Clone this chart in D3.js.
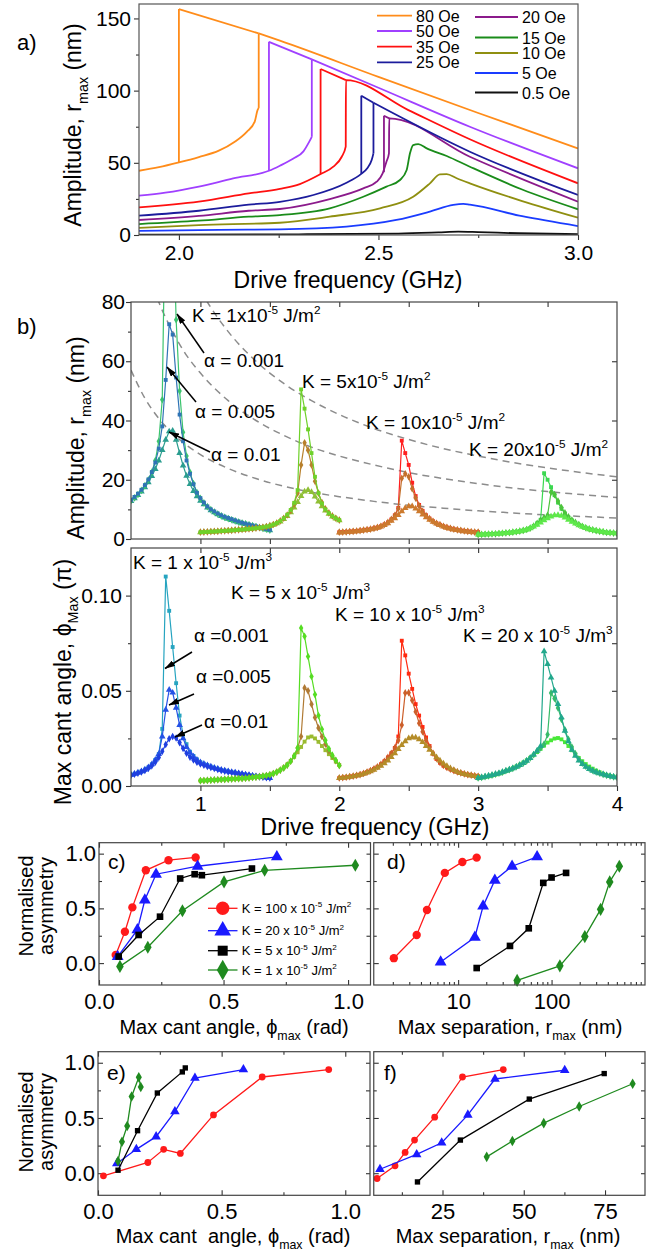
<!DOCTYPE html>
<html><head><meta charset="utf-8">
<script src="https://cdn.jsdelivr.net/npm/d3@7/dist/d3.min.js"></script>
<style>
html,body{margin:0;padding:0;background:#fff;}
svg{display:block;font-family:"Liberation Sans",Arial,Helvetica,sans-serif;}
text{white-space:pre;}
</style></head><body>
<svg id="chart" width="654" height="1256" viewBox="0 0 654 1256"></svg>
<script>
// ================= DATA =================
// ---- panel a : amplitude vs drive frequency for several fields ----
const fieldLabelsL = ["80 Oe","50 Oe","35 Oe","25 Oe"];
const fieldLabelsR = ["20 Oe","15 Oe","10 Oe","5 Oe","0.5 Oe"];
const up80 = [[1.9,44.5],[1.95,47],[2.0,50.3],[2.05,54],[2.1,58.4],[2.14,64.6],[2.17,71.5],[2.19,78.5],[2.197,86.5],[2.2,88],[2.2,139.6],[2.253,134.6],[2.5,109.5],[2.75,84.5],[3.0,60]];
const dn80 = [[2.0,50.3],[2.0,156.5],[2.2,139.6]];
const up50 = [[1.9,27.2],[1.966,29.3],[2.05,33.5],[2.136,39.2],[2.2256,44.5],[2.253,48],[2.287,53],[2.312,57.9],[2.327,64.8],[2.333,68],[2.333,121.6],[2.5,102],[2.729,75],[3.0,46.2]];
const dn50 = [[2.2256,44.5],[2.2256,133.8],[2.333,121.6]];
const up35 = [[1.9,19.2],[2.05,23.1],[2.175,28.8],[2.253,32],[2.303,35.3],[2.355,42.2],[2.387,47.3],[2.408,54.2],[2.418,61.2],[2.4185,107.3],[2.575,86.5],[2.729,66.3],[3.0,35.8]];
const dn35 = [[2.355,42.2],[2.355,115],[2.4185,107.3]];
const up25 = [[1.9,13.4],[2.05,16.8],[2.175,21],[2.253,23],[2.337,27.7],[2.42,36.2],[2.456,42.2],[2.472,46.2],[2.483,51.9],[2.4875,56.6],[2.4875,91.6],[2.729,57.7],[3.0,27.7]];
const dn25 = [[2.457,42.5],[2.457,96.5],[2.4875,91.6]];
const up20 = [[1.9,10.4],[2.05,13.2],[2.175,16.8],[2.253,18],[2.378,24.9],[2.462,32.3],[2.4955,36.9],[2.5105,42.7],[2.52,50.8],[2.5263,56.6],[2.527,80.8],[2.729,54.2],[3.0,23.1]];
const dn20 = [[2.5138,43.5],[2.5138,82.6],[2.527,80.8]];
const c15 = [[1.9,7.6],[2.05,9.9],[2.175,12.7],[2.253,13.8],[2.378,18.5],[2.462,26.5],[2.52,33.5],[2.554,38.1],[2.5707,45],[2.579,56.6],[2.587,62.3],[2.5998,63],[2.621,60],[2.671,54.7],[2.729,47.3],[2.86,31.5],[3.0,17.8]];
const c10 = [[1.9,5],[2.05,6.9],[2.253,8.5],[2.378,12.7],[2.504,18.5],[2.587,26.5],[2.629,35.8],[2.654,42],[2.671,42.2],[2.696,39.3],[2.729,35.8],[2.86,23.5],[3.0,12]];
const c5 = [[1.9,2.8],[2.1,3.6],[2.253,3.9],[2.42,5.8],[2.545,10.4],[2.629,16.2],[2.6875,20.8],[2.7125,21.5],[2.729,21],[2.86,13],[3.0,6.2]];
const c05 = [[1.9,0.3],[2.3,0.5],[2.55,1.0],[2.65,1.8],[2.7,2.3],[2.75,2.0],[2.85,1.2],[3.0,0.6]];

// ---- panel b : frequency grids of the four anisotropy groups ----
const fK1 = [0.5,0.525,0.55,0.575,0.6,0.625,0.65,0.675,0.7,0.725,0.75,0.775,0.8,0.825,0.85,0.875,0.9,0.925,0.95,0.975,1,1.025,1.05,1.075,1.1,1.125,1.15,1.175,1.2,1.225,1.25,1.275,1.3,1.325,1.35,1.375,1.4,1.425,1.45,1.475,1.5];
const fK5 = [1,1.025,1.05,1.075,1.1,1.125,1.15,1.175,1.2,1.225,1.25,1.275,1.3,1.325,1.35,1.375,1.4,1.425,1.45,1.475,1.5,1.525,1.55,1.575,1.6,1.625,1.65,1.675,1.7,1.725,1.75,1.775,1.8,1.825,1.85,1.875,1.9,1.925,1.95,1.975,2];
const fK10 = [2,2.025,2.05,2.075,2.1,2.125,2.15,2.175,2.2,2.225,2.25,2.275,2.3,2.325,2.35,2.375,2.4,2.425,2.45,2.475,2.5,2.525,2.55,2.575,2.6,2.625,2.65,2.675,2.7,2.725,2.75,2.775,2.8,2.825,2.85,2.875,2.9,2.925,2.95,2.975,3];
const fK20 = [3,3.025,3.05,3.075,3.1,3.125,3.15,3.175,3.2,3.225,3.25,3.275,3.3,3.325,3.35,3.375,3.4,3.425,3.45,3.475,3.5,3.525,3.55,3.575,3.6,3.625,3.65,3.675,3.7,3.725,3.75,3.775,3.8,3.825,3.85,3.875,3.9,3.925,3.95,3.975,4];
// amplitude r_max (nm)
const ampK1a1 = [12.9,13.9,15,16.4,18,20,22.6,26.5,33,47,125,160,115,74,50,36,28,22.5,18.7,15.7,13.7,12.2,10.9,9.9,9.1,8.4,7.8,7.3,6.9,6.5,6.1,5.7,5.4,5.1,4.8,4.5,4.2,3.9,3.6,3.3,3.0];
const ampK1a5 = [13.2,14.2,15.3,16.6,18.2,20.1,22.6,25.8,30.5,38,53.7,72.5,69,54.5,42,33,26.5,22,18.5,15.6,13.8,12.3,11,10,9.3,8.6,8,7.5,7.1,6.7,6.3,5.9,5.5,5.2,4.9,4.6,4.3,4,3.7,3.4,3.1];
const ampK1a10 = [12.8,13.7,14.8,16,17.4,19.1,21.2,23.6,26.5,30,33.5,36.3,36.5,33.5,29,24.8,21.3,18.5,16.2,14.4,12.9,11.7,10.6,9.7,9,8.3,7.7,7.2,6.8,6.4,6,5.6,5.3,5,4.7,4.4,4.1,3.8,3.5,3.2,2.9];
const ampK5a1 = [2.3,2.35,2.4,2.5,2.55,2.6,2.7,2.75,2.85,2.9,3.0,3.1,3.2,3.3,3.4,3.5,3.65,3.8,3.95,4.2,4.5,4.9,5.4,6.1,7.0,8.2,9.8,12.2,16.5,50.5,44,37,29,21,15.5,12,10,8.7,7.7,7,6.4];
const ampK5a5 = [2.3,2.35,2.4,2.5,2.55,2.6,2.7,2.75,2.85,2.9,3.0,3.1,3.2,3.3,3.4,3.5,3.65,3.8,3.95,4.2,4.5,4.9,5.4,6.1,7.0,8.1,9.6,11.8,15.5,25,32.5,30,25,19.5,15.5,12.3,10.2,8.8,7.8,7,6.4];
const ampK5a10 = [2.25,2.3,2.35,2.45,2.5,2.55,2.65,2.7,2.8,2.9,3.0,3.1,3.2,3.3,3.4,3.5,3.65,3.8,3.95,4.15,4.4,4.8,5.3,5.9,6.7,7.7,9,10.6,12.5,14.5,16,16.5,15.8,14.3,12.6,11,9.6,8.5,7.6,6.9,6.3];
const ampK10a1 = [2.3,2.35,2.4,2.5,2.6,2.7,2.85,3.0,3.15,3.35,3.6,3.9,4.3,4.9,5.6,6.6,8,10.5,33.2,29,25,19,14.5,11.5,9.5,8,6.9,6,5.3,4.8,4.3,3.9,3.6,3.3,3.1,2.9,2.7,2.6,2.45,2.35,2.3];
const ampK10a5 = [2.3,2.35,2.4,2.5,2.6,2.7,2.85,3.0,3.15,3.35,3.6,3.9,4.3,4.9,5.6,6.6,8,10.3,20.5,22,21,17,13.8,11.2,9.3,7.9,6.9,6,5.3,4.8,4.3,3.9,3.6,3.3,3.1,2.9,2.7,2.6,2.45,2.35,2.3];
const ampK10a10 = [2.2,2.25,2.3,2.4,2.5,2.6,2.75,2.9,3.05,3.25,3.5,3.8,4.2,4.7,5.3,6.1,7,8.1,9.3,10.4,11,11,10.3,9.3,8.2,7.3,6.5,5.8,5.2,4.7,4.2,3.8,3.5,3.2,3,2.8,2.6,2.5,2.35,2.25,2.2];
const ampK20a1 = [1.5,1.55,1.6,1.65,1.7,1.75,1.85,1.95,2.05,2.15,2.3,2.45,2.65,2.9,3.2,3.7,4.4,5.3,6.5,22.2,20,17.5,14.8,12.3,10.2,8.6,7.3,6.3,5.5,4.8,4.3,3.8,3.4,3.1,2.8,2.6,2.4,2.2,2.1,2.0,1.9];
const ampK20a5 = [1.5,1.55,1.6,1.65,1.7,1.75,1.85,1.95,2.05,2.15,2.3,2.45,2.65,2.9,3.2,3.7,4.4,5.3,6.3,7.2,8,15.8,15,12.8,10.6,8.8,7.5,6.4,5.6,4.9,4.3,3.8,3.4,3.1,2.8,2.6,2.4,2.2,2.1,2.0,1.9];
const ampK20a10 = [1.45,1.5,1.55,1.6,1.65,1.7,1.8,1.9,2.0,2.1,2.25,2.4,2.6,2.85,3.15,3.6,4.2,4.8,5.5,6.3,7.0,7.6,8.0,8.1,7.8,7.2,6.5,5.8,5.2,4.6,4.1,3.7,3.3,3.0,2.8,2.6,2.4,2.2,2.1,2.0,1.9];
// max cant angle (units of pi)
const phiK1a1 = [0.0059,0.0064,0.007,0.0077,0.0086,0.0098,0.0114,0.0137,0.0168,0.03,0.110,0.092,0.073,0.054,0.037,0.027,0.022,0.018,0.0158,0.014,0.0125,0.0117,0.011,0.0102,0.0096,0.009,0.0085,0.0081,0.0077,0.0073,0.007,0.0066,0.0063,0.006,0.0057,0.0054,0.0051,0.0049,0.0047,0.0044,0.0042];
const phiK1a5 = [0.0059,0.0064,0.007,0.0077,0.0086,0.0098,0.0114,0.0137,0.0168,0.026,0.04,0.0505,0.049,0.041,0.032,0.025,0.0205,0.0175,0.0155,0.0138,0.0124,0.0116,0.0109,0.0102,0.0096,0.009,0.0085,0.0081,0.0077,0.0073,0.007,0.0066,0.0063,0.006,0.0057,0.0054,0.0051,0.0049,0.0047,0.0044,0.0042];
const phiK1a10 = [0.0057,0.0062,0.0067,0.0074,0.0082,0.0093,0.0107,0.0125,0.015,0.0182,0.0218,0.0248,0.026,0.0252,0.0228,0.0198,0.0172,0.0152,0.0137,0.0125,0.0116,0.0109,0.0103,0.0097,0.0092,0.0087,0.0082,0.0078,0.0074,0.0071,0.0068,0.0065,0.0062,0.0059,0.0056,0.0053,0.005,0.0048,0.0046,0.0044,0.0042];
const phiK5a1 = [0.0028,0.0029,0.003,0.0031,0.0032,0.0033,0.0034,0.0035,0.0036,0.0037,0.0038,0.0039,0.004,0.0041,0.0043,0.0045,0.0047,0.0049,0.0052,0.0055,0.0059,0.0065,0.0073,0.0083,0.0095,0.011,0.013,0.0158,0.02,0.083,0.0786,0.068,0.0575,0.048,0.037,0.0298,0.024,0.0195,0.0162,0.0135,0.0108];
const phiK5a5 = [0.0028,0.0029,0.003,0.0031,0.0032,0.0033,0.0034,0.0035,0.0036,0.0037,0.0038,0.0039,0.004,0.0041,0.0043,0.0045,0.0047,0.0049,0.0052,0.0055,0.0059,0.0065,0.0073,0.0083,0.0095,0.011,0.013,0.0158,0.02,0.026,0.0515,0.05,0.043,0.036,0.0305,0.026,0.022,0.0185,0.0158,0.0133,0.0108];
const phiK5a10 = [0.0028,0.0029,0.003,0.0031,0.0032,0.0033,0.0034,0.0035,0.0036,0.0037,0.0038,0.0039,0.004,0.0041,0.0043,0.0045,0.0047,0.0049,0.0052,0.0056,0.006,0.0066,0.0075,0.0085,0.0098,0.0113,0.0132,0.0153,0.0177,0.0205,0.0233,0.0255,0.026,0.025,0.0232,0.021,0.0188,0.0167,0.0147,0.0128,0.011];
const phiK10a1 = [0.0042,0.0044,0.0046,0.0049,0.0052,0.0056,0.006,0.0066,0.0073,0.0081,0.009,0.0101,0.0114,0.013,0.015,0.0172,0.02,0.026,0.0763,0.0686,0.059,0.051,0.043,0.037,0.031,0.0255,0.021,0.017,0.0142,0.0122,0.0107,0.0097,0.0088,0.0081,0.0074,0.0069,0.0064,0.006,0.0057,0.0054,0.0051];
const phiK10a5 = [0.0042,0.0044,0.0046,0.0049,0.0052,0.0056,0.006,0.0066,0.0073,0.0081,0.009,0.0101,0.0114,0.013,0.015,0.0172,0.02,0.024,0.032,0.0489,0.049,0.045,0.039,0.033,0.0285,0.024,0.0205,0.0172,0.0145,0.0124,0.0108,0.0097,0.0088,0.0081,0.0074,0.0069,0.0064,0.006,0.0057,0.0054,0.0051];
const phiK10a10 = [0.0041,0.0043,0.0045,0.0048,0.0051,0.0055,0.0059,0.0064,0.007,0.0077,0.0085,0.0095,0.0106,0.0119,0.0134,0.0152,0.0172,0.0194,0.0215,0.0235,0.025,0.0255,0.0254,0.0245,0.023,0.021,0.019,0.017,0.015,0.0133,0.0118,0.0105,0.0093,0.0083,0.0075,0.0068,0.0063,0.0059,0.0055,0.0052,0.005];
const phiK20a1 = [0.0042,0.0045,0.0049,0.0053,0.0057,0.0062,0.0067,0.0073,0.008,0.0086,0.0093,0.0101,0.011,0.012,0.0132,0.0147,0.0165,0.0185,0.021,0.0707,0.064,0.057,0.05,0.043,0.036,0.029,0.0235,0.019,0.0158,0.0133,0.0115,0.01,0.0089,0.008,0.0072,0.0066,0.0061,0.0056,0.0052,0.0048,0.0045];
const phiK20a5 = [0.0042,0.0045,0.0049,0.0053,0.0057,0.0062,0.0067,0.0073,0.008,0.0086,0.0093,0.0101,0.011,0.012,0.0132,0.0147,0.0165,0.0185,0.02,0.022,0.027,0.0489,0.046,0.041,0.035,0.0295,0.0245,0.0205,0.017,0.0142,0.012,0.0104,0.0092,0.0082,0.0074,0.0067,0.0061,0.0056,0.0052,0.0048,0.0045];
const phiK20a10 = [0.0041,0.0044,0.0047,0.0051,0.0055,0.006,0.0065,0.0071,0.0078,0.0085,0.0093,0.0102,0.0112,0.0123,0.0135,0.0148,0.0162,0.0178,0.0195,0.0212,0.0228,0.024,0.0249,0.0252,0.0245,0.023,0.021,0.0188,0.0166,0.0147,0.013,0.0115,0.0102,0.0091,0.0081,0.0072,0.0064,0.0058,0.0053,0.0049,0.0045];
// dashed guide curves through the resonance peaks
const dashTop = [[1.0,84],[1.05,80],[1.2,70],[1.4,60],[1.6,52.5],[1.8,46.7],[2.0,42],[2.25,37.3],[2.5,33.6],[2.75,30.5],[3.0,28],[3.25,25.8],[3.5,24],[3.75,22.4],[4.0,21]];
const dashMid = [[0.66,85],[0.7,80],[0.8,70],[0.9,62],[1.0,56],[1.2,46.7],[1.4,40],[1.6,35],[1.8,31],[2.0,28],[2.25,25],[2.5,22.4],[2.75,20.4],[3.0,18.7],[3.25,17.2],[3.5,16],[3.75,15],[4.0,14]];
const dashLow = [[0.5,57],[0.6,47.5],[0.7,40.7],[0.8,35.6],[0.9,31.7],[1.0,28.5],[1.2,23.8],[1.4,20.4],[1.6,17.8],[1.8,15.8],[2.0,14.3],[2.25,12.7],[2.5,11.4],[2.75,10.4],[3.0,9.5],[3.25,8.8],[3.5,8.1],[3.75,7.6],[4.0,7.1]];

// ---- panels c-f : normalised asymmetry ----
const legendK = ["100","20","5","1"];
const cRed = [[0.067,0.075],[0.104,0.287],[0.134,0.509],[0.188,0.848],[0.279,0.94],[0.388,0.965]];
const cBlue = [[0.075,0.06],[0.154,0.303],[0.184,0.576],[0.229,0.812],[0.396,0.885],[0.714,0.97]];
const cBlack = [[0.079,0.06],[0.159,0.257],[0.245,0.424],[0.326,0.773],[0.384,0.812],[0.413,0.803],[0.614,0.864]];
const cGreen = [[0.084,-0.03],[0.196,0.145],[0.335,0.478],[0.502,0.742],[0.665,0.848],[1.029,0.894]];
const dRed = [[2.05,0.045],[3.6,0.257],[4.64,0.485],[7.2,0.824],[11.1,0.924],[15.8,0.964]];
const dBlue = [[6.5,0.01],[15.1,0.236],[18.5,0.52],[24.7,0.757],[37.8,0.885],[70,0.97]];
const dBlack = [[15.8,-0.045],[35.9,0.157],[57,0.318],[81.5,0.733],[100,0.782],[143,0.824]];
const dGreen = [[42.8,-0.158],[122.7,-0.025],[227,0.242],[335,0.491],[419,0.742],[531,0.885]];
const eRed = [[0.022,-0.024],[0.2016,0.097],[0.2655,0.216],[0.333,0.179],[0.467,0.528],[0.664,0.871],[0.933,0.938]];
const eBlue = [[0.076,0.088],[0.155,0.216],[0.235,0.331],[0.311,0.558],[0.392,0.862],[0.588,0.938]];
const eBlack = [[0.081,0.027],[0.16,0.385],[0.24,0.726],[0.341,0.917],[0.353,0.953]];
const eGreen = [[0.081,0.109],[0.097,0.285],[0.118,0.428],[0.136,0.695],[0.165,0.868],[0.173,0.78]];
const fRed = [[4.87,-0.048],[10.4,0.067],[13.5,0.188],[16.4,0.3],[22.6,0.507],[31.15,0.871],[43.7,0.938]];
const fBlue = [[5.77,0.036],[17.06,0.17],[24.75,0.276],[32.8,0.528],[41.15,0.853],[62.6,0.932]];
const fBlack = [[17.3,-0.079],[30.5,0.3],[51.7,0.671],[74.75,0.902]];
const fGreen = [[38.6,0.148],[46.5,0.291],[56.15,0.453],[67.05,0.604],[83.5,0.81]];

// ================= DRAWING =================
const svg = d3.select("#chart");
const defs = svg.append("defs");
defs.append("marker").attr("id","arr").attr("viewBox","0 0 10 6").attr("refX",9.5).attr("refY",3)
  .attr("markerWidth",7).attr("markerHeight",4.2).attr("orient","auto")
  .append("path").attr("d","M0,0L10,3L0,6z").attr("fill","#000");
function clip(id,x0,y0,x1,y1){defs.append("clipPath").attr("id",id).append("rect").attr("x",x0).attr("y",y0).attr("width",x1-x0).attr("height",y1-y0);}

function rich(parent,x,y,parts,size,anchor,rot){
  const t=parent.append("text").attr("font-size",size).attr("text-anchor",anchor||"start").attr("fill","#000")
    .attr("transform",`translate(${x},${y})`+(rot?` rotate(${rot})`:""));
  let shift=0;
  parts.forEach(p=>{
    const s=Array.isArray(p)?p[0]:p, k=Array.isArray(p)?p[1]:"";
    const target=k==="sup"?-0.42*size:(k==="sub"?0.3*size:0);
    const ts=t.append("tspan").text(s).attr("dy",(target-shift).toFixed(2));
    if(k) ts.attr("font-size",(size*0.62).toFixed(1));
    shift=target;
  });
  return t;
}
function styleAxis(g,fs){
  g.select(".domain").remove();
  g.selectAll(".tick line").attr("stroke","#333").attr("stroke-width",1.1);
  g.selectAll("text").attr("font-size",fs).attr("font-family",null).attr("fill","#000");
  g.attr("font-family",null);
}
function frame(g,x0,y0,x1,y1,col){g.append("rect").attr("x",x0).attr("y",y0).attr("width",x1-x0).attr("height",y1-y0).attr("fill","none").attr("stroke",col||"#444").attr("stroke-width",1.2);}
function addAxis(g,gen,tx,ty,fs){const a=g.append("g").attr("transform",`translate(${tx},${ty})`).call(gen);styleAxis(a,fs);return a;}

// ---------- Panel a ----------
const xA=d3.scaleLinear().domain([1.9,3.0]).range([139,578]);
const yA=d3.scaleLinear().domain([0,160]).range([235,4]);
const gA=svg.append("g");
clip("clipA",139,4,578,235);
addAxis(gA,d3.axisBottom(xA).tickValues([2.0,2.5,3.0]).tickFormat(d3.format(".1f")).tickSize(5).tickPadding(5),0,235,21);
addAxis(gA,d3.axisBottom(xA).tickValues([2.25,2.75]).tickFormat("").tickSize(3),0,235,21);
addAxis(gA,d3.axisLeft(yA).tickValues([0,50,100,150]).tickSize(5).tickPadding(3),139,0,21);
addAxis(gA,d3.axisLeft(yA).tickValues([25,75,125]).tickFormat("").tickSize(3),139,0,21);
const curvesA=[
  {p:[up80,dn80],c:"#ff8c1a"},{p:[up50,dn50],c:"#a040ff"},{p:[up35,dn35],c:"#ff1010"},{p:[up25,dn25],c:"#1c1c9c"},
  {p:[up20,dn20],c:"#8b1a8b"},{p:[c15],c:"#1a8c1a"},{p:[c10],c:"#8f8f10"},{p:[c5],c:"#1a3cff"},{p:[c05],c:"#111"}];
function segs(pts){const out=[];let cur=[pts[0]];
  for(let i=1;i<pts.length;i++){ if(pts[i][0]===pts[i-1][0]){out.push(cur);out.push(["v",pts[i-1],pts[i]]);cur=[pts[i]];} else cur.push(pts[i]); }
  out.push(cur);return out;}
const lineSmoothA=d3.line().x(d=>xA(d[0])).y(d=>yA(d[1])).curve(d3.curveMonotoneX);
const lineLinA=d3.line().x(d=>xA(d[0])).y(d=>yA(d[1]));
const gAc=gA.append("g").attr("clip-path","url(#clipA)");
curvesA.slice().reverse().forEach(cv=>{
  cv.p.forEach(pts=>{
    segs(pts).forEach(s=>{
      if(s[0]==="v"){gAc.append("path").attr("d",lineLinA([s[1],s[2]])).attr("fill","none").attr("stroke",cv.c).attr("stroke-width",1.8);}
      else if(s.length>1){gAc.append("path").attr("d",lineSmoothA(s)).attr("fill","none").attr("stroke",cv.c).attr("stroke-width",1.8).attr("stroke-linejoin","round");}
    });
  });
});
frame(gA,139,4,578,235,"#555");
// legend a
const legColsL=["#ff8c1a","#a040ff","#ff1010","#1c1c9c"], legYL=[15.7,31,46.7,62.3];
fieldLabelsL.forEach((l,i)=>{gA.append("line").attr("x1",377).attr("x2",412).attr("y1",legYL[i]).attr("y2",legYL[i]).attr("stroke",legColsL[i]).attr("stroke-width",1.8);
  gA.append("text").attr("x",416).attr("y",legYL[i]+6).attr("font-size",16).text(l);});
const legColsR=["#8b1a8b","#1a8c1a","#8f8f10","#1a3cff","#111"], legYR=[17,37.5,53,73,92.5];
fieldLabelsR.forEach((l,i)=>{gA.append("line").attr("x1",475).attr("x2",518).attr("y1",legYR[i]).attr("y2",legYR[i]).attr("stroke",legColsR[i]).attr("stroke-width",1.8);
  gA.append("text").attr("x",522).attr("y",legYR[i]+6).attr("font-size",16).text(l);});
gA.append("text").attr("x",17).attr("y",50).attr("font-size",22).text("a)");
rich(gA,81,125,["Amplitude, r",["max","sub"]," (nm)"],23,"middle",-90);
rich(gA,348,288,["Drive frequency (GHz)"],23,"middle");

// ---------- Panel b ----------
const xB=d3.scaleLinear().domain([0.5,4]).range([131,617]);
const yB1=d3.scaleLinear().domain([0,80]).range([539,302]);
const yB2=d3.scaleLinear().domain([0,0.125]).range([786,548]);
const gB=svg.append("g");
clip("clipB1",131,302,617,539); clip("clipB2",131,548,617,786);
const halfTicks=[1,1.5,2,2.5,3,3.5];
// upper axes
addAxis(gB,d3.axisLeft(yB1).tickValues([0,20,40,60,80]).tickSize(5).tickPadding(1),131,0,21);
addAxis(gB,d3.axisLeft(yB1).tickValues([10,30,50,70]).tickFormat("").tickSize(3),131,0,21);
addAxis(gB,d3.axisRight(yB1).tickValues([20,40,60]).tickFormat("").tickSize(-5),617,0,21);
addAxis(gB,d3.axisTop(xB).tickValues(halfTicks).tickFormat("").tickSize(-5),0,302,21);
addAxis(gB,d3.axisBottom(xB).tickValues(halfTicks).tickFormat("").tickSize(5),0,539,21);
// lower axes
addAxis(gB,d3.axisLeft(yB2).tickValues([0,0.05,0.10]).tickFormat(d3.format(".2f")).tickSize(5).tickPadding(4),131,0,21);
addAxis(gB,d3.axisLeft(yB2).tickValues([0.025,0.075]).tickFormat("").tickSize(3),131,0,21);
addAxis(gB,d3.axisRight(yB2).tickValues([0.025,0.05,0.075,0.1]).tickFormat("").tickSize(-5),617,0,21);
addAxis(gB,d3.axisTop(xB).tickValues(halfTicks).tickFormat("").tickSize(-5),0,548,21);
addAxis(gB,d3.axisBottom(xB).tickValues([1,1.5,2,2.5,3,3.5,4]).tickFormat(d=>Number.isInteger(d)?String(d):"").tickSize(5).tickPadding(5),0,786,21);

// dashed guides
const gB1=gB.append("g").attr("clip-path","url(#clipB1)");
const dashLine=d3.line().x(d=>xB(d[0])).y(d=>yB1(d[1])).curve(d3.curveMonotoneX);
[dashTop,dashMid,dashLow].forEach(d=>gB1.append("path").attr("d",dashLine(d)).attr("fill","none").attr("stroke","#8c8c8c").attr("stroke-width",1.5).attr("stroke-dasharray","7,5"));

const symT={sq:d3.symbolSquare,tri:d3.symbolTriangle,dia:d3.symbolDiamond};
const symS={sq:15,tri:19,dia:17};
const upperSeries=[
  [fK1,ampK1a10,"#2a9d8f","tri"],[fK1,ampK1a1,"#3cc46e","dia"],[fK1,ampK1a5,"#2f74b5","sq"],
  [fK5,ampK5a10,"#8fbf35","tri"],[fK5,ampK5a5,"#b8802c","dia"],[fK5,ampK5a1,"#6fd12a","sq"],
  [fK10,ampK10a1,"#ff1f1f","sq"],[fK10,ampK10a5,"#c4702c","dia"],[fK10,ampK10a10,"#cc7a2e","tri"],
  [fK20,ampK20a1,"#3ad850","sq"],[fK20,ampK20a5,"#4cc43c","dia"],[fK20,ampK20a10,"#5ee84a","tri"]];
const lowerSeries=[
  [fK1,phiK1a1,"#26a4c0","sq"],[fK1,phiK1a5,"#2452e6","tri"],[fK1,phiK1a10,"#1f3fe0","dia"],
  [fK5,phiK5a10,"#9abb30","sq"],[fK5,phiK5a5,"#b07a34","dia"],[fK5,phiK5a1,"#55dd22","dia"],
  [fK10,phiK10a1,"#ff2a10","sq"],[fK10,phiK10a5,"#cc5f2a","dia"],[fK10,phiK10a10,"#b48c28","tri"],
  [fK20,phiK20a10,"#48e838","sq"],[fK20,phiK20a5,"#36bb6a","dia"],[fK20,phiK20a1,"#22a88c","tri"]];
function drawSeries(g,series,ys){
  series.forEach(([fx,vals,col,sh])=>{
    const pts=fx.map((f,i)=>[f,vals[i]]);
    g.append("path").attr("d",d3.line().x(d=>xB(d[0])).y(d=>ys(d[1]))(pts)).attr("fill","none").attr("stroke",col).attr("stroke-width",1.2);
    g.selectAll(null).data(pts).enter().append("path")
      .attr("transform",d=>`translate(${xB(d[0])},${ys(d[1])})`)
      .attr("d",d3.symbol().type(symT[sh]).size(symS[sh])).attr("fill",col);
  });
}
drawSeries(gB1,upperSeries,yB1);
const gB2=gB.append("g").attr("clip-path","url(#clipB2)");
drawSeries(gB2,lowerSeries,yB2);
frame(gB,131,302,617,539); frame(gB,131,548,617,786);

// annotations b upper
const F=19;
rich(gB,192,322,["K = 1x10",["-5","sup"]," J/m",["2","sup"]],F);
rich(gB,302,388,["K = 5x10",["-5","sup"]," J/m",["2","sup"]],F);
rich(gB,366,429,["K = 10x10",["-5","sup"]," J/m",["2","sup"]],F);
rich(gB,469,456,["K = 20x10",["-5","sup"]," J/m",["2","sup"]],F);
rich(gB,204,367,["α = 0.001"],F);
rich(gB,195,418,["α = 0.005"],F);
rich(gB,211,461,["α = 0.01"],F);
// annotations b lower
rich(gB,133,569,["K = 1 x 10",["-5","sup"]," J/m",["3","sup"]],F);
rich(gB,231,599,["K = 5 x 10",["-5","sup"]," J/m",["3","sup"]],F);
rich(gB,335,621,["K = 10 x 10",["-5","sup"]," J/m",["3","sup"]],F);
rich(gB,463,642,["K = 20 x 10",["-5","sup"]," J/m",["3","sup"]],F);
rich(gB,194,642,["α =0.001"],F);
rich(gB,196,683,["α =0.005"],F);
rich(gB,204,728,["α =0.01"],F);
const arrows=[[204,353,177,314],[196,402,167,367],[210,452,169,432],[192,652,165,668.5],[194,694,169,705],[202,725,175,737]];
arrows.forEach(a=>gB.append("line").attr("x1",a[0]).attr("y1",a[1]).attr("x2",a[2]).attr("y2",a[3]).attr("stroke","#000").attr("stroke-width",1.5).attr("marker-end","url(#arr)"));
gB.append("text").attr("x",17).attr("y",334).attr("font-size",22).text("b)");
rich(gB,84,438,["Amplitude, r",["max","sub"]," (nm)"],23,"middle",-90);
rich(gB,71,682,["Max cant angle, ϕ",["Max","sub"]," (π)"],23,"middle",-90);
rich(gB,375,835,["Drive frequency (GHz)"],23,"middle");

// ---------- Panels c-f ----------
const xC=d3.scaleLinear().domain([0,1.09]).range([99,370.5]);
const yCD=d3.scaleLinear().domain([-0.2,1.1]).range([985,842.7]);
const xD=d3.scaleLog().domain([1.25,1000]).range([373.75,645]);
const xE=d3.scaleLinear().domain([0,1.1]).range([98,370]);
const yEF=d3.scaleLinear().domain([-0.2,1.1]).range([1195.3,1051.7]);
const xF=d3.scaleLinear().domain([3.85,87.3]).range([373.75,645]);
const gC=svg.append("g");
const seriesStyle=[{c:"#ff1a1a",s:d3.symbolCircle},{c:"#1a1aff",s:d3.symbolTriangle},{c:"#000000",s:d3.symbolSquare},{c:"#1f8a1f",s:d3.symbolDiamond}];
const logMinor=[2,3,4,5,6,7,8,9,20,30,40,50,60,70,80,90,200,300,400,500,600,700,800,900];
function panel(xs,ys,x0,x1,y0,y1,majX,minX,fmtX,padX,leftLabels,sets,msize){
  const g=gC.append("g");
  addAxis(g,d3.axisBottom(xs).tickValues(majX).tickFormat(fmtX).tickSize(-5).tickPadding(padX),0,y1,22);
  addAxis(g,d3.axisBottom(xs).tickValues(minX).tickFormat("").tickSize(-3),0,y1,22);
  addAxis(g,d3.axisTop(xs).tickValues(majX).tickFormat("").tickSize(-5),0,y0,22);
  addAxis(g,d3.axisTop(xs).tickValues(minX).tickFormat("").tickSize(-3),0,y0,22);
  addAxis(g,d3.axisLeft(ys).tickValues([0,0.5,1.0]).tickFormat(leftLabels?d3.format(".1f"):"").tickSize(-5).tickPadding(3),x0,0,22);
  addAxis(g,d3.axisLeft(ys).tickValues([0.25,0.75]).tickFormat("").tickSize(-3),x0,0,22);
  addAxis(g,d3.axisRight(ys).tickValues([0,0.25,0.5,0.75,1.0]).tickFormat("").tickSize(-4),x1,0,22);
  sets.forEach((pts,i)=>{
    const st=seriesStyle[i];
    g.append("path").attr("d",d3.line().x(d=>xs(d[0])).y(d=>ys(d[1]))(pts)).attr("fill","none").attr("stroke",st.c).attr("stroke-width",1.3);
    g.selectAll(null).data(pts).enter().append("path").attr("transform",d=>`translate(${xs(d[0])},${ys(d[1])})`)
      .attr("d",d3.symbol().type(st.s).size(msize*(i===1?1.1:(i===2?0.8:(i===3?0.9:1))))).attr("fill",st.c);
  });
  frame(g,x0,y0,x1,y1);
  return g;
}
panel(xC,yCD,99,370.5,842.7,985,[0,0.5,1.0],[0.25,0.75],d3.format(".1f"),8.4,true,[cRed,cBlue,cBlack,cGreen],55);
panel(xD,yCD,373.75,645,842.7,985,[10,100],logMinor,d3.format("d"),8.4,false,[dRed,dBlue,dBlack,dGreen],55);
panel(xE,yEF,98,370,1051.7,1195.3,[0,0.5,1.0],[0.25,0.75],d3.format(".1f"),8,true,[eRed,eBlue,eBlack,eGreen],36);
panel(xF,yEF,373.75,645,1051.7,1195.3,[25,50,75],[12.5,37.5,62.5],d3.format("d"),8,false,[fRed,fBlue,fBlack,fGreen],36);
// legend in c
const legY=[908.3,930.7,950.7,970];
legendK.forEach((k,i)=>{
  const st=seriesStyle[i];
  gC.append("line").attr("x1",208).attr("x2",237.5).attr("y1",legY[i]).attr("y2",legY[i]).attr("stroke",st.c).attr("stroke-width",1.3);
  gC.append("path").attr("transform",`translate(222.7,${legY[i]})`).attr("d",d3.symbol().type(st.s).size(i===0?140:(i===2?100:120))).attr("fill",st.c);
  rich(gC,241.7,legY[i]+4.6,["K = "+k+" x 10",["-5","sup"]," J/m",["2","sup"]],13);
});
gC.append("text").attr("x",108).attr("y",869).attr("font-size",21).text("c)");
gC.append("text").attr("x",387).attr("y",869).attr("font-size",21).text("d)");
gC.append("text").attr("x",107).attr("y",1080).attr("font-size",21).text("e)");
gC.append("text").attr("x",384).attr("y",1080).attr("font-size",21).text("f)");
rich(gC,33,906,["Normalised"],20,"middle",-90);
rich(gC,53,906,["asymmetry"],20,"middle",-90);
rich(gC,33,1122,["Normalised"],20,"middle",-90);
rich(gC,53,1122,["asymmetry"],20,"middle",-90);
rich(gC,234,1034,["Max cant angle, ϕ",["max","sub"]," (rad)"],20,"middle");
rich(gC,510,1034,["Max separation, r",["max","sub"]," (nm)"],20,"middle");
rich(gC,233,1243,["Max cant  angle, ϕ",["max","sub"]," (rad)"],20,"middle");
rich(gC,508,1243,["Max separation, r",["max","sub"]," (nm)"],20,"middle");
</script>
</body></html>
